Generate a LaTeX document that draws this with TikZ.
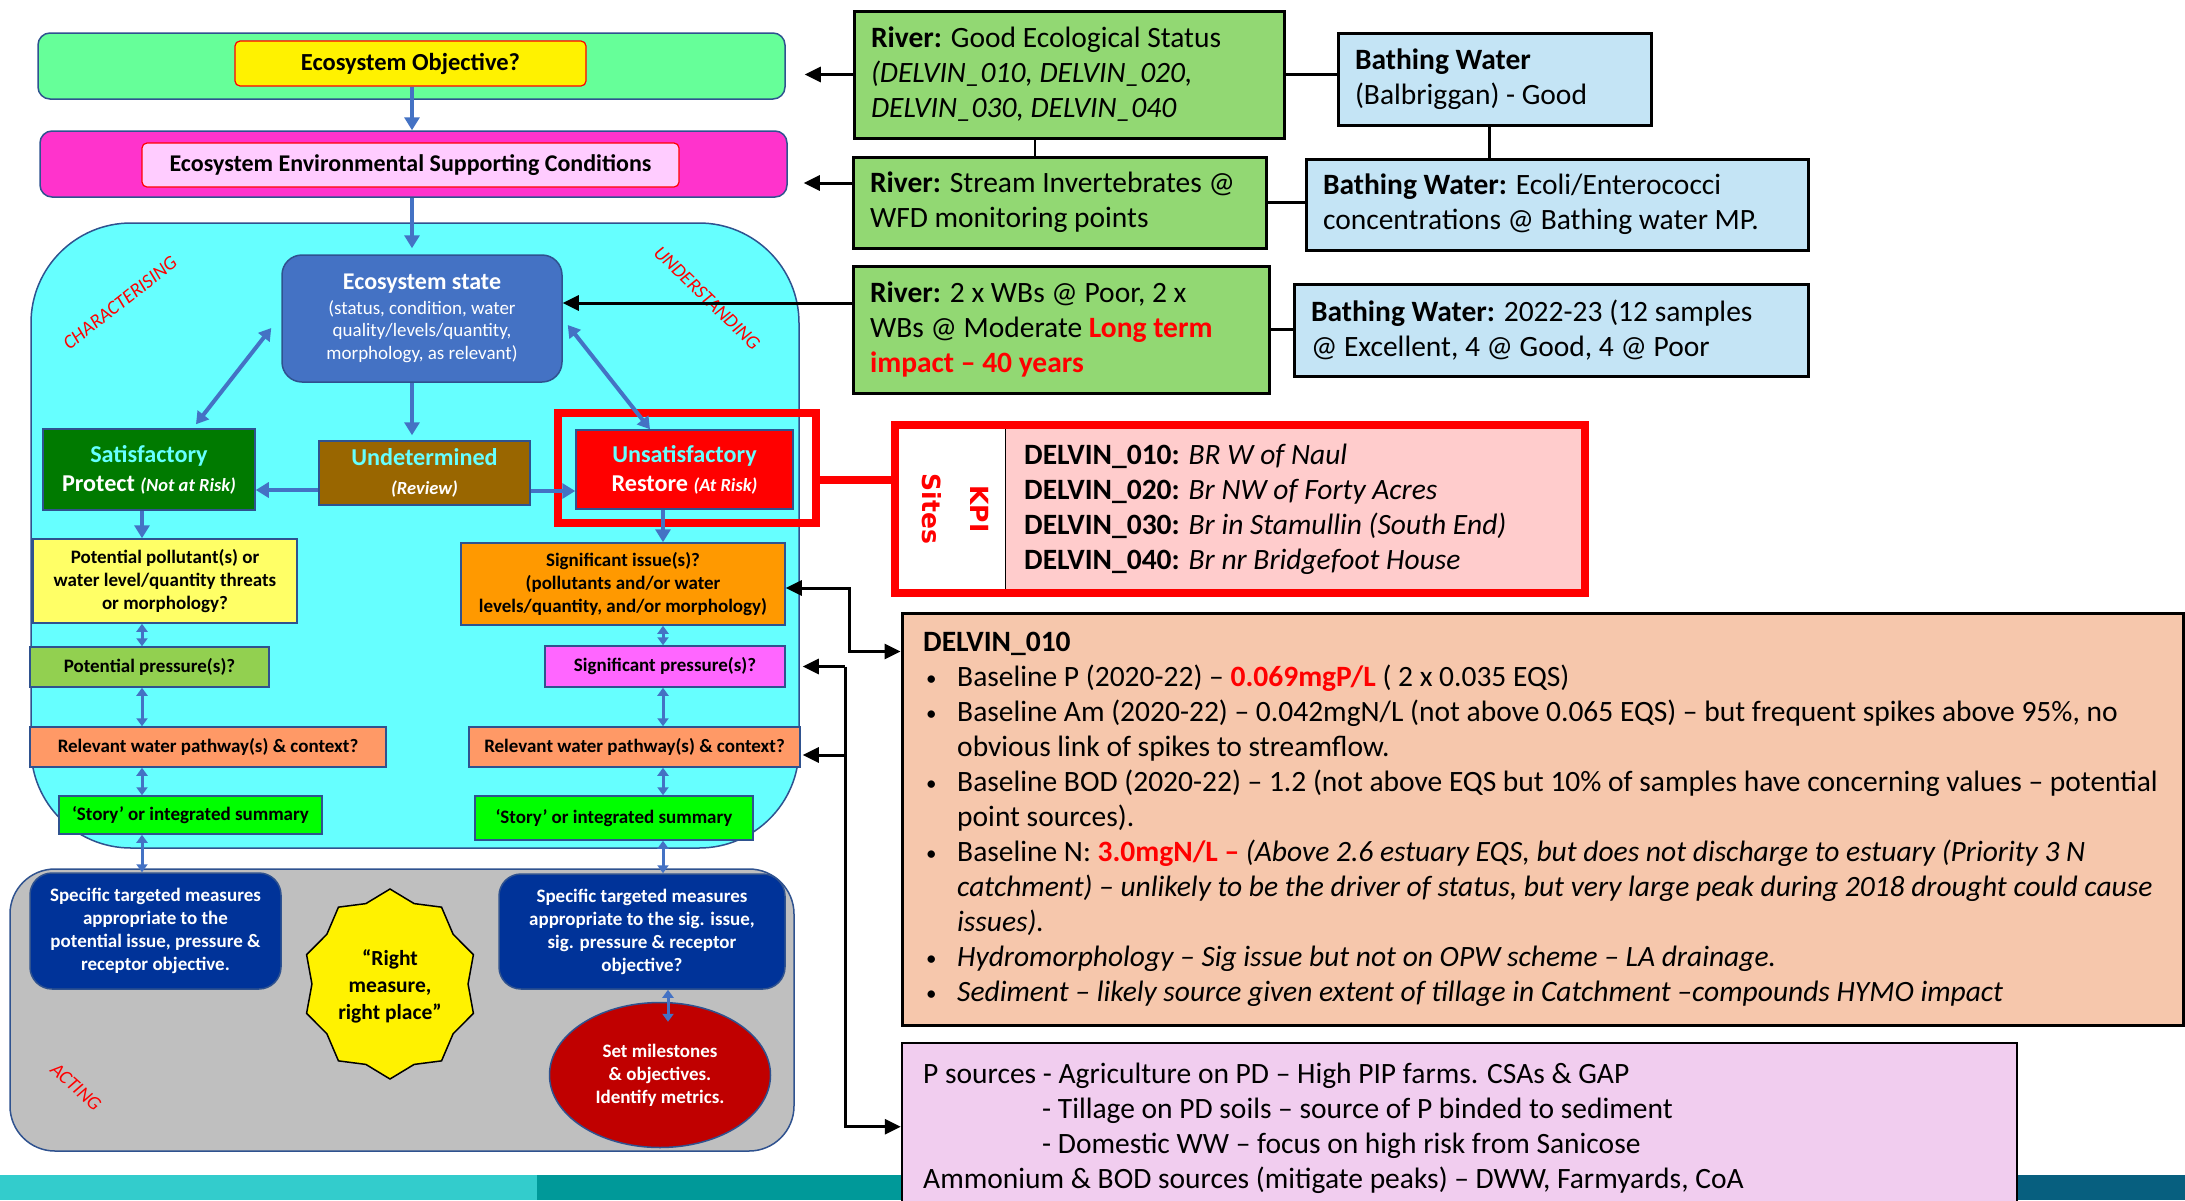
\documentclass[tikz,border=0pt]{standalone}
\usepackage{fontspec}
\setmainfont{Carlito}
\newfontfamily\kpifont{DejaVu Sans}
\usetikzlibrary{positioning, arrows.meta, shapes.geometric}

\definecolor{edgeblue}{HTML}{2F528F}
\definecolor{arrowblue}{HTML}{4472C4}
\definecolor{objgreen}{HTML}{66FF99}
\definecolor{condmag}{HTML}{FF33CC}
\definecolor{condpink}{HTML}{FFCCFF}
\definecolor{cyanbg}{HTML}{66FFFF}
\definecolor{statefill}{HTML}{4472C4}
\definecolor{satgreen}{HTML}{007A00}
\definecolor{txtcyan}{HTML}{66FFFF}
\definecolor{undbrown}{HTML}{996600}
\definecolor{ppyellow}{HTML}{FFFF66}
\definecolor{sigorange}{HTML}{FF9900}
\definecolor{ppgreen}{HTML}{92D050}
\definecolor{spmag}{HTML}{FF66FF}
\definecolor{relorange}{HTML}{FF9966}
\definecolor{storygreen}{HTML}{00FF00}
\definecolor{graybg}{HTML}{BFBFBF}
\definecolor{measblue}{HTML}{003399}
\definecolor{milered}{HTML}{C00000}
\definecolor{rivgreen}{HTML}{92D873}
\definecolor{bathblue}{HTML}{C4E4F5}
\definecolor{kpipink}{HTML}{FFCCCC}
\definecolor{peach}{HTML}{F6C7AC}
\definecolor{lilac}{HTML}{F1CDEF}
\definecolor{band1}{HTML}{33CCCC}
\definecolor{band2}{HTML}{009999}
\definecolor{band3}{HTML}{075F7F}

\newcommand{\bul}{\makebox[34pt][l]{\hspace{3pt}\raisebox{1pt}{\fontsize{21}{21}\selectfont•}}}
\newcommand{\indt}{\hspace*{34pt}}

\tikzset{
  bar/.style={draw=edgeblue, line width=1.5pt, rounded corners=12pt},
  titlebox/.style={draw=red, line width=1.2pt, rounded corners=5pt, font=\fontsize{24.5}{29}\selectfont\bfseries},
  flowbox/.style={draw=edgeblue, line width=1.5pt, align=center, inner sep=2pt, font=\fontsize{19}{23}\selectfont\bfseries},
  statusbox/.style={draw=edgeblue, line width=1.5pt, align=center, text=white, font=\fontsize{24.2}{29}\selectfont\bfseries},
  measbox/.style={flowbox, fill=measblue, text=white, rounded corners=22pt},
  infobox/.style={draw=black, line width=3pt, align=flush left, inner xsep=17pt, font=\fontsize{29.5}{35}\selectfont},
  flow/.style={draw=arrowblue, line width=4pt, -{Triangle[length=13pt,width=15pt]}},
  dflow/.style={draw=arrowblue, line width=3pt, {Triangle[length=8pt,width=11pt]}-{Triangle[length=8pt,width=11pt]}},
  bigdflow/.style={draw=arrowblue, line width=4pt, {Triangle[length=12pt,width=14pt]}-{Triangle[length=12pt,width=14pt]}},
  link/.style={draw=black, line width=3pt, -{Triangle[length=16pt,width=15pt]}},
  dlink/.style={link, {Triangle[length=16pt,width=15pt]}-{Triangle[length=16pt,width=15pt]}},
  tie/.style={draw=black, line width=2.5pt},
  lbl/.style={text=red, font=\fontsize{19.5}{23}\selectfont\itshape},
}

\begin{document}
\begin{tikzpicture}[x=1pt, y=-1pt]
    \useasboundingbox (0,0) rectangle (2185,1200);
    \fill[white] (0,0) rectangle (2185,1200);

    % footer band
    \fill[band1] (0,1175) rectangle (537,1200);
    \fill[band2] (537,1175) rectangle (1950,1200);
    \fill[band3] (1950,1175) rectangle (2185,1200);

    % left hand flow
    \node[bar, fill=objgreen, minimum width=747pt, minimum height=66pt] (objbar) at (411.5,66) {};
    \node[titlebox, fill=yellow, minimum width=351pt, minimum height=45pt] (objbox) at (410.5,63.5) {Ecosystem Objective?};
    \node[bar, fill=condmag, minimum width=747pt, minimum height=66pt] (condbar) at (413.5,164) {};
    \node[titlebox, fill=condpink, minimum width=537pt, minimum height=44pt, font=\fontsize{24}{29}\selectfont\bfseries] (condbox) at (410.5,165) {Ecosystem Environmental Supporting Conditions};

    \node[draw=edgeblue, line width=1.5pt, fill=cyanbg, rounded corners=100pt, minimum width=768pt, minimum height=625pt] (region) at (415,535.5) {};
    \node[draw=edgeblue, line width=1.5pt, fill=graybg, rounded corners=45pt, minimum width=784pt, minimum height=282pt] (actbox) at (402,1010) {};

    \node[lbl, rotate=38] (charlbl) at (120,303) {CHARACTERISING};
    \node[lbl, rotate=-44] (undlbl) at (707,298) {UNDERSTANDING};
    \node[lbl, rotate=-42] (actlbl) at (76,1087) {ACTING};

    \node[statusbox, fill=statefill, rounded corners=20pt, minimum width=280pt, minimum height=127pt, font=\fontsize{19}{22.5}\selectfont] (state) at (422,318.5) {{\fontsize{24}{28}\selectfont\bfseries Ecosystem state}\\[2pt](status, condition, water\\quality/levels/quantity,\\morphology, as relevant)};

    \node[statusbox, fill=satgreen, minimum width=212pt, minimum height=81pt] (sat) at (149,469.5) {\textcolor{txtcyan}{Satisfactory}\\Protect {\fontsize{18.5}{22}\selectfont\itshape (Not at Risk)}};
    \node[statusbox, fill=undbrown, minimum width=211pt, minimum height=64pt] (und) at (424.5,473) {\textcolor{txtcyan}{Undetermined}\\{\fontsize{18.5}{22}\selectfont\itshape (Review)}};
    \node[statusbox, fill=red, minimum width=217pt, minimum height=79pt] (unsat) at (684.5,469.5) {\textcolor{txtcyan}{Unsatisfactory}\\Restore {\fontsize{18.5}{22}\selectfont\itshape (At Risk)}};
    \node[draw=red, line width=8pt, minimum width=258pt, minimum height=110pt] (hilite) at (687,468) {};

    \node[flowbox, fill=ppyellow, minimum width=264pt, minimum height=84pt] (potpoll) at (165,581) {Potential pollutant(s) or\\water level/quantity threats\\or morphology?};
    \node[flowbox, fill=sigorange, minimum width=324pt, minimum height=82pt] (sigissue) at (623,584) {Significant issue(s)?\\(pollutants and/or water\\levels/quantity, and/or morphology)};
    \node[flowbox, fill=ppgreen, minimum width=239pt, minimum height=40pt] (potpress) at (149.5,667) {Potential pressure(s)?};
    \node[flowbox, fill=spmag, minimum width=240pt, minimum height=41pt] (sigpress) at (665,666.5) {Significant pressure(s)?};
    \node[flowbox, fill=relorange, minimum width=356pt, minimum height=40pt] (relL) at (208,747) {Relevant water pathway(s) \& context?};
    \node[flowbox, fill=relorange, minimum width=331pt, minimum height=40pt] (relR) at (634.5,747) {Relevant water pathway(s) \& context?};
    \node[flowbox, fill=storygreen, minimum width=263pt, minimum height=38pt] (storyL) at (190.5,815) {‘Story’ or integrated summary};
    \node[flowbox, fill=storygreen, minimum width=278pt, minimum height=44pt] (storyR) at (614,818) {‘Story’ or integrated summary};

    \node[measbox, minimum width=251pt, minimum height=116pt] (measL) at (155.5,931) {Specific targeted measures\\appropriate to the\\potential issue, pressure \&\\receptor objective.};
    \node[measbox, minimum width=286pt, minimum height=115pt] (measR) at (642,931.5) {Specific targeted measures\\appropriate to the sig. issue,\\sig. pressure \& receptor\\objective?};

    % ten point star
    \draw[fill=yellow, line width=1.5pt] plot[samples at={0,...,19}, variable=\i] ({390+87.7*(1-0.11*mod(\i,2))*sin(18*\i)}, {984-95*(1-0.11*mod(\i,2))*cos(18*\i)}) -- cycle;
    \node[align=center, font=\fontsize{21.5}{27}\selectfont\bfseries] (slogan) at (390,986) {“Right\\measure,\\right place”};

    \node[ellipse, draw=edgeblue, line width=1.5pt, fill=milered, text=white, align=center, inner sep=0pt, minimum width=221pt, minimum height=145pt, font=\fontsize{19}{23}\selectfont\bfseries] (mile) at (660,1075) {Set milestones\\\& objectives.\\Identify metrics.};

    % blue flow arrows
    \coordinate (mcol) at (412,0);
    \coordinate (lcol) at (142,0);
    \coordinate (rcol) at (663,0);
    \draw[flow] (mcol |- objbox.south) -- (mcol |- condbar.north);
    \draw[flow, shorten >=6pt] (mcol |- condbar.south) -- (mcol |- state.north);
    \draw[flow, shorten >=5pt] (mcol |- state.south) -- (mcol |- und.north);
    \draw[bigdflow] ([xshift=-10pt,yshift=-9.5pt]state.west) -- ([xshift=47pt,yshift=4pt]sat.north);
    \draw[bigdflow] ([xshift=5pt,yshift=-6.5pt]state.east) -- ([xshift=-34.5pt]unsat.north);
    \draw[flow] ([yshift=-17pt]und.west) -- ([yshift=-17pt]und.west -| sat.east);
    \draw[flow] ([yshift=-18pt]und.east) -- ([yshift=-18pt]und.east -| unsat.west);
    \draw[flow] (lcol |- sat.south) -- (lcol |- potpoll.north);
    \draw[dflow] (lcol |- potpoll.south) -- (lcol |- potpress.north);
    \draw[dflow] (lcol |- potpress.south) -- (lcol |- relL.north);
    \draw[dflow] (lcol |- relL.south) -- (lcol |- storyL.north);
    \draw[dflow] (lcol |- storyL.south) -- (lcol |- measL.north);
    \draw[flow] (rcol |- unsat.south) -- (rcol |- sigissue.north);
    \draw[dflow] (rcol |- sigissue.south) -- (rcol |- sigpress.north);
    \draw[dflow] (rcol |- sigpress.south) -- (rcol |- relR.north);
    \draw[dflow] (rcol |- relR.south) -- (rcol |- storyR.north);
    \draw[dflow] (rcol |- storyR.south) -- (rcol |- measR.north);
    \draw[dflow] ([xshift=26pt]measR.south) -- ([xshift=26pt,yshift=-32pt]measR.south);

    % right hand evidence
    \node[infobox, fill=rivgreen, text width=396pt, minimum height=127pt] (riv1) at (1069,74.5) {\textbf{River:} Good Ecological Status\\\textit{(DELVIN\_010, DELVIN\_020,}\\\textit{DELVIN\_030, DELVIN\_040}};
    \node[infobox, fill=bathblue, text width=279pt, minimum height=92pt] (bath1) at (1494.5,79) {\textbf{Bathing Water}\\(Balbriggan) - Good};
    \node[infobox, fill=rivgreen, text width=379pt, minimum height=91pt] (riv2) at (1059.5,202.5) {\textbf{River:} Stream Invertebrates @\\WFD monitoring points};
    \node[infobox, fill=bathblue, text width=468pt, minimum height=91pt] (bath2) at (1557,204.5) {\textbf{Bathing Water:} Ecoli/Enterococci\\concentrations @ Bathing water MP.};
    \node[infobox, fill=rivgreen, text width=382pt, minimum height=127pt] (riv3) at (1061,329.5) {\textbf{River:} 2 x WBs @ Poor, 2 x\\WBs @ Moderate \textcolor{red}{\textbf{Long term}}\\\textcolor{red}{\textbf{impact – 40 years}}};
    \node[infobox, fill=bathblue, text width=480pt, minimum height=92pt] (bath3) at (1551,330) {\textbf{Bathing Water:} 2022-23 (12 samples\\@ Excellent, 4 @ Good, 4 @ Poor};

    \draw[tie] (riv1.east) -- (riv1.east -| bath1.west);
    \draw[tie] ([xshift=-34pt]riv1.south) -- ([xshift=-34pt]riv1.south |- riv2.north);
    \draw[tie] ([xshift=-5pt]bath1.south) -- ([xshift=-5pt]bath1.south |- bath2.north);
    \draw[tie] (riv2.east) -- (riv2.east -| bath2.west);
    \draw[tie] (riv3.east) -- (riv3.east -| bath3.west);

    \draw[link, shorten >=19pt] (riv1.west) -- (riv1.west -| objbar.east);
    \draw[link, shorten >=16pt] ([yshift=19.5pt]riv2.west) -- ([yshift=19.5pt]riv2.west -| condbar.east);
    \draw[link] ([yshift=26.5pt]riv3.west) -- ([yshift=26.5pt]riv3.west -| state.east);

    % KPI sites
    \fill[kpipink] (895,425) rectangle (1585,593);
    \fill[white] (895,425) rectangle (1005,593);
    \draw[line width=1pt] (1005,429) -- (1005,589);
    \node[draw=red, line width=8pt, minimum width=690pt, minimum height=168pt] (kpi) at (1240,509) {};
    \node[rotate=-90, align=center, text=red, font=\kpifont\fontsize{25}{48}\selectfont\bfseries] (kpitag) at (955,509) {KPI\\Sites};
    \node[anchor=west, align=left, inner sep=0pt, font=\fontsize{29.5}{35}\selectfont] (kpilist) at (1024,509) {\textbf{DELVIN\_010:} \textit{BR W of Naul}\\\textbf{DELVIN\_020:} \textit{Br NW of Forty Acres}\\\textbf{DELVIN\_030:} \textit{Br in Stamullin (South End)}\\\textbf{DELVIN\_040:} \textit{Br nr Bridgefoot House}};
    \draw[red, line width=8pt] ([yshift=-12pt]hilite.east) -- ([yshift=-12pt]hilite.east -| kpi.west);

    % site summary
    \node[draw=black, line width=3pt, fill=peach, minimum width=1281pt, minimum height=412pt] (delvin) at (1542.5,819) {};
    \node[anchor=west, align=left, inner sep=0pt, font=\fontsize{29.5}{35}\selectfont] (delvintxt) at (923,819) {\textbf{DELVIN\_010}\\
      \bul Baseline P (2020-22) – \textcolor{red}{\textbf{0.069mgP/L}} ( 2 x 0.035 EQS)\\
      \bul Baseline Am (2020-22) – 0.042mgN/L (not above 0.065 EQS) – but frequent spikes above 95\%, no\\
      \indt obvious link of spikes to streamflow.\\
      \bul Baseline BOD (2020-22) – 1.2 (not above EQS but 10\% of samples have concerning values – potential\\
      \indt point sources).\\
      \bul Baseline N: \textcolor{red}{\textbf{3.0mgN/L –}} \textit{(Above 2.6 estuary EQS, but does not discharge to estuary (Priority 3 N}\\
      \indt\textit{catchment) – unlikely to be the driver of status, but very large peak during 2018 drought could cause}\\
      \indt\textit{issues).}\\
      \bul\textit{Hydromorphology – Sig issue but not on OPW scheme – LA drainage.}\\
      \bul\textit{Sediment – likely source given extent of tillage in Catchment –compounds HYMO impact}};

    \node[draw=black, line width=2.5pt, fill=lilac, minimum width=1115pt, minimum height=167pt] (lilac) at (1459.5,1126.5) {};
    \node[anchor=north west, align=left, inner sep=0pt, font=\fontsize{29.5}{35}\selectfont] (lilactxt) at (923,1063) {P sources - Agriculture on PD – High PIP farms. CSAs \& GAP\\
      \hspace*{119pt}- Tillage on PD soils – source of P binded to sediment\\
      \hspace*{119pt}- Domestic WW – focus on high risk from Sanicose\\
      Ammonium \& BOD sources (mitigate peaks) – DWW, Farmyards, CoA};

    % feedback to the issue boxes
    \coordinate (jA) at (849,0);
    \coordinate (jB) at (845,0);
    \draw[dlink] ([yshift=-4pt]sigissue.east) -- ([yshift=-4pt]sigissue.east -| jA) |- ([yshift=-40pt]delvin.north west);
    \draw[link] (jB |- sigpress.east) |- ([yshift=-85pt]lilac.north west);
    \draw[link] (jB |- sigpress.east) -- ([xshift=17pt]sigpress.east);
    \draw[link] ([yshift=-8pt]relR.east -| jB) -- ([yshift=-8pt,xshift=2pt]relR.east);

\end{tikzpicture}
\end{document}
